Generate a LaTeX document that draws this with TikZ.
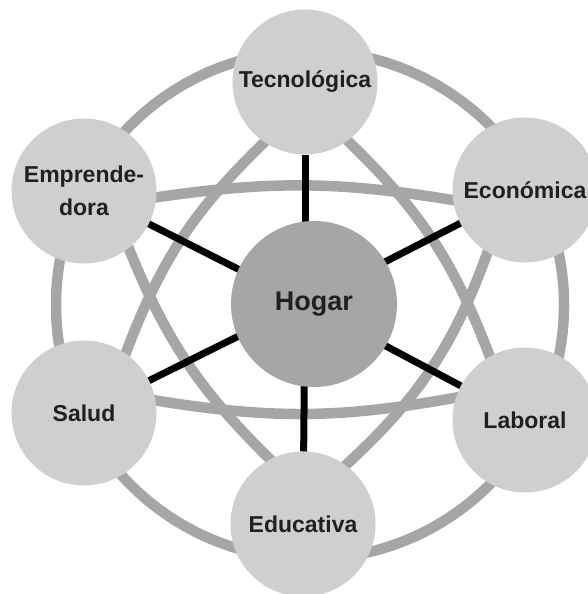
\documentclass[tikz,border=0pt]{standalone}
\usepackage{fontspec}
\setmainfont{Liberation Sans}
\usetikzlibrary{backgrounds}
\definecolor{ringgray}{HTML}{A6A6A6}
\definecolor{areagray}{HTML}{CFCFCF}
\definecolor{textdark}{HTML}{231F20}
\tikzset{
	area/.style={circle, fill=areagray, minimum size=145pt, inner sep=0pt, outer sep=0pt, align=center, text=textdark, font=\bfseries\fontsize{23}{33}\selectfont},
	hogar/.style={area, fill=ringgray, minimum size=166pt, font=\bfseries\fontsize{27}{33}\selectfont},
	ring/.style={draw=ringgray, line width=10.5pt},
	link/.style={ring, shorten <=-8pt, shorten >=-8pt},
	spoke/.style={draw, line width=7pt}
}

\begin{document}
\begin{tikzpicture}[x=1pt, y=1pt]
\useasboundingbox (0,0) rectangle (588,-594);

\coordinate (hub) at (305,-303);
\coordinate (mid) at (310,-305);

\node[hogar] (hogar) at (314,-304) {Hogar};
\node[area] (tecno) at (305,-82) {Tecnológica};
\node[area] (econ) at (525,-190) {Económica};
\node[area] (lab) at (525,-420) {Laboral};
\node[area] (edu) at (303,-524) {Educativa};
\node[area] (salud) at (84,-413) {Salud};
\node[area] (empr) at (84,-191) {Emprende-\\dora};

\begin{scope}[on background layer]
\draw[ring] (mid) circle (254);

\draw[link] (empr.-5) to[bend left=9] (econ.188);
\draw[link] (salud.10) to[bend right=10] (lab.162);
\draw[link] (empr.-52) to[bend right=12] (edu.117);
\draw[link] (tecno.236) to[bend right=13] (salud.55);
\draw[link] (tecno.-54) to[bend left=13] (lab.119);
\draw[link] (econ.239) to[bend left=14] (edu.54);

\foreach \n in {tecno, econ, lab, edu, salud, empr}
	\draw[spoke] (hub) -- (\n);
\end{scope}

\end{tikzpicture}
\end{document}
